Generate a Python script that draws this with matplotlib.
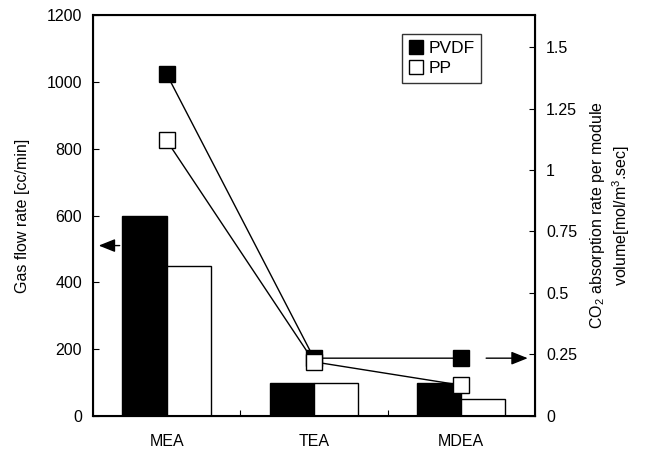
import numpy as np
import matplotlib.pyplot as plt

plt.rcParams['font.family'] = ['Liberation Sans', 'DejaVu Sans']
plt.rcParams['mathtext.fontset'] = 'custom'
plt.rcParams['mathtext.rm'] = 'Liberation Sans'
plt.rcParams['mathtext.it'] = 'Liberation Sans'

# ---- data ----
amines = ["MEA", "TEA", "MDEA"]
flow_pvdf = [600, 100, 100]
flow_pp = [450, 100, 50]
abs_pvdf = [1.39, 0.235, 0.235]
abs_pp = [1.12, 0.22, 0.125]

x = np.arange(len(amines)) + 0.5
w = 0.3
fs = 11.5

fig = plt.figure(figsize=(6.48, 4.5), dpi=100)
ax = fig.add_axes([0.1435, 0.0756, 0.682, 0.891])

ax.bar(x - w / 2, flow_pvdf, w, color="black", edgecolor="black", lw=1)
ax.bar(x + w / 2, flow_pp, w, color="white", edgecolor="black", lw=1)

ax.set_xlim(0, 3)
ax.set_ylim(0, 1200)
ax.set_yticks(range(0, 1201, 200))
ax.set_xticks([1, 2])
ax.set_xticklabels([])
ax.set_xticks(x, minor=True)
ax.set_xticklabels(amines, minor=True)
ax.tick_params(axis="x", which="minor", length=0, pad=13, labelsize=fs)
ax.tick_params(axis="x", which="major", direction="in", length=4)
ax.tick_params(axis="y", direction="in", length=4, labelsize=fs, pad=8)
ax.set_ylabel("Gas flow rate [cc/min]", fontsize=fs, labelpad=12)
for s in ax.spines.values():
    s.set_linewidth(1.5)

ax2 = ax.twinx()
ax2.set_ylim(0, 1.63)
ax2.set_yticks([0, 0.25, 0.5, 0.75, 1, 1.25, 1.5])
ax2.set_yticklabels(["0", "0.25", "0.5", "0.75", "1", "1.25", "1.5"])
ax2.tick_params(axis="y", direction="in", length=4, labelsize=fs, pad=8)
ax2.set_ylabel("CO$_2$ absorption rate per module\nvolume[mol/m$^3$.sec]",
               fontsize=fs, labelpad=8)

ax2.plot(x, abs_pvdf, color="black", lw=1, marker="s", ms=11,
         mfc="black", mec="black", label="PVDF")
ax2.plot(x, abs_pp, color="black", lw=1, marker="s", ms=11,
         mfc="white", mec="black", label="PP")

# arrows pointing to the relevant axis
ax.annotate("", xy=(0.02, 510), xytext=(0.2, 510),
            arrowprops=dict(arrowstyle="-|>,head_length=1.0,head_width=0.4",
                            color="black", lw=1))
ax2.annotate("", xy=(2.97, abs_pvdf[2]), xytext=(2.65, abs_pvdf[2]),
             arrowprops=dict(arrowstyle="-|>,head_length=1.0,head_width=0.4",
                             color="black", lw=1))

leg = ax2.legend(loc="upper left", bbox_to_anchor=(0.68, 0.975), frameon=True,
                 fancybox=False, edgecolor="black", fontsize=12.5,
                 handlelength=0.8, handletextpad=0.3, borderpad=0.4,
                 labelspacing=0.3)
leg.get_frame().set_linewidth(1)
for h in leg.legend_handles:
    h.set_linestyle("None")
    h.set_markersize(10)

fig.savefig("out.png", dpi=100)
